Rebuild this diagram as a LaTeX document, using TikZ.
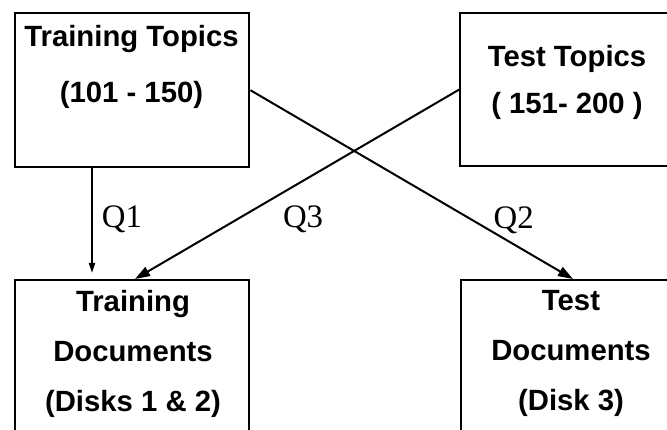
\documentclass[tikz,border=0pt]{standalone}
\usepackage{fontspec}
\setmainfont{Liberation Serif}
\newfontfamily\helv{Liberation Sans}
\usetikzlibrary{arrows.meta,positioning}
\tikzset{
  bloc/.style={draw,line width=2pt,anchor=north west,inner sep=0pt},
  txt/.style={align=center,inner sep=0pt,font=\helv\bfseries\fontsize{25}{42.7}\selectfont},
  fl/.style={line width=1.7pt,-{Triangle[length=0.45cm,width=0.3cm]}},
  flp/.style={line width=1.7pt,-{Triangle[length=0.3cm,width=0.18cm]},shorten >=0.18cm},
  lbl/.style={inner sep=0pt,font=\fontsize{28}{30}\selectfont},
}

\begin{document}
\begin{tikzpicture}[x=0.03cm,y=-0.03cm]
  \useasboundingbox (0,0) rectangle (667,430);
  \clip (0,0) rectangle (667,430);
  \node[bloc,minimum width=7.02cm,minimum height=4.62cm] (trtop) at (14,12) {};
  \node[bloc,minimum width=7.2cm,minimum height=4.59cm] (tetop) at (459,12) {};
  \node[bloc,minimum width=7.02cm,minimum height=6cm] (trdoc) at (14,279) {};
  \node[bloc,minimum width=7.2cm,minimum height=6cm] (tedoc) at (460,279) {};
  \node[txt] (trtoptx) at (131.5,66.5) {Training Topics\\[5pt](101 - 150)};
  \node[txt] (tetoptx) at (567,82) {Test Topics\\[-2.5pt]( 151- 200 )};
  \node[txt] (trdoctx) at (133,353.5) {Training\\Documents\\(Disks 1 \& 2)};
  \node[txt] (tedoctx) at (571,353.5) {Test\\Documents\\(Disk 3)};
  \draw[flp] ([xshift=2.34cm]trtop.south west) -- node[lbl,pos=0.464,xshift=0.9cm]{Q1} ([xshift=2.34cm]trdoc.north west);
  \draw[fl] (tetop.west) -- node[lbl,pos=0.683,xshift=1.96cm]{Q3} ([xshift=3.63cm]trdoc.north west);
  \draw[fl] (trtop.east) -- node[lbl,pos=0.689,xshift=1.23cm]{Q2} ([xshift=3.39cm]tedoc.north west);
\end{tikzpicture}
\end{document}
